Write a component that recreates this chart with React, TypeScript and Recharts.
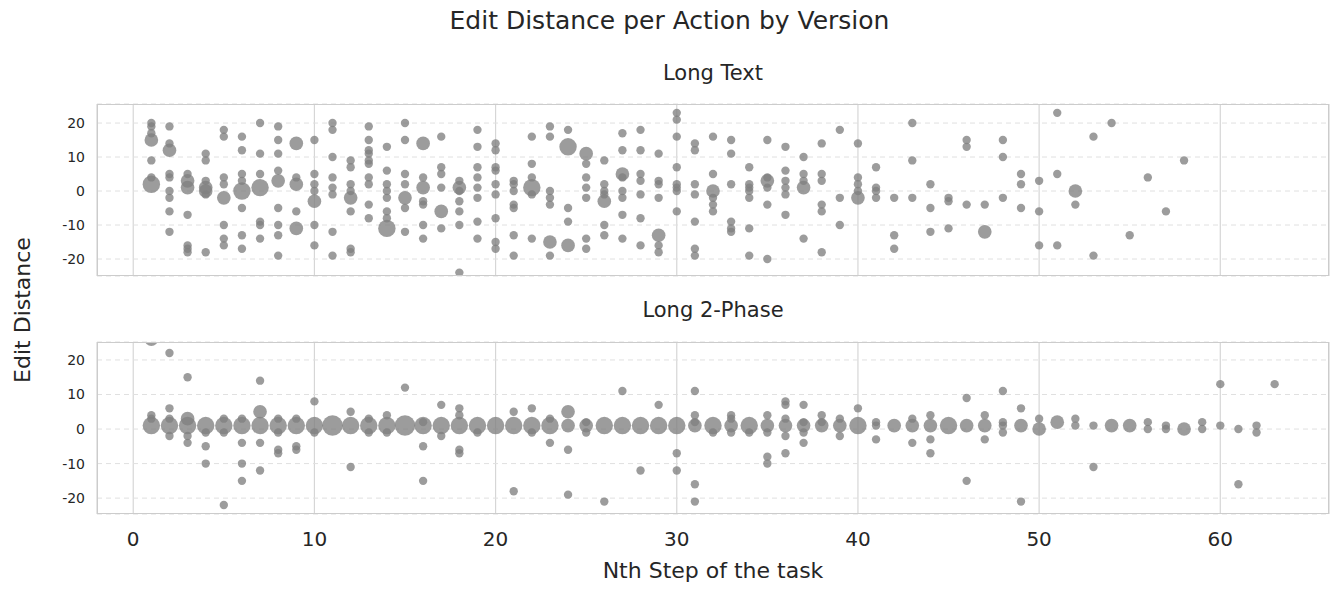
import React from 'react';
import { ScatterChart, Scatter, XAxis, YAxis, ZAxis, CartesianGrid } from 'recharts';

// [step, edit distance, relative count]
const longTextPoints: number[][] = [
  [1,20,1],[1,19,1],[1,17,1],[1,15,2],[1,9,1],[1,4,1],[1,2,3],
  [2,19,1],[2,14,1],[2,12,2],[2,5,1],[2,4,1],[2,0,1],[2,-2,1],[2,-6,1],[2,-12,1],
  [3,5,1],[3,3,2],[3,1,2],[3,-7,1],[3,-16,1],[3,-17,1],[3,-18,1],
  [4,11,1],[4,9,1],[4,3,1],[4,1,2],[4,0,2],[4,-1,1],[4,-18,1],
  [5,18,1],[5,16,1],[5,4,1],[5,2,1],[5,-2,2],[5,-10,1],[5,-14,1],[5,-16,1],
  [6,16,1],[6,12,1],[6,5,1],[6,3,1],[6,0,3],[6,-5,1],[6,-13,1],[6,-17,1],
  [7,20,1],[7,11,1],[7,5,1],[7,1,3],[7,-9,1],[7,-10,1],[7,-14,1],
  [8,19,1],[8,15,1],[8,11,1],[8,6,1],[8,3,2],[8,-5,1],[8,-10,1],[8,-13,1],[8,-19,1],
  [9,14,2],[9,4,1],[9,2,2],[9,-6,1],[9,-11,2],
  [10,15,1],[10,5,1],[10,2,1],[10,0,1],[10,-3,2],[10,-10,1],[10,-16,1],
  [11,20,1],[11,18,1],[11,10,1],[11,4,1],[11,1,1],[11,-1,1],[11,-12,1],[11,-19,1],
  [12,9,1],[12,7,1],[12,2,1],[12,0,1],[12,-2,2],[12,-6,1],[12,-17,1],[12,-18,1],
  [13,19,1],[13,15,1],[13,12,1],[13,11,1],[13,9,1],[13,8,1],[13,4,1],[13,2,1],[13,-4,1],[13,-8,1],
  [14,13,1],[14,6,1],[14,2,1],[14,0,1],[14,-2,1],[14,-6,1],[14,-8,1],[14,-11,3],
  [15,20,1],[15,15,1],[15,5,1],[15,2,1],[15,-2,2],[15,-5,1],[15,-12,1],
  [16,14,2],[16,4,1],[16,1,2],[16,-3,1],[16,-4,1],[16,-10,1],[16,-14,1],
  [17,16,1],[17,7,1],[17,5,1],[17,1,1],[17,-6,2],[17,-11,1],
  [18,3,1],[18,1,2],[18,0,1],[18,-3,1],[18,-6,1],[18,-10,1],[18,-24,1],
  [19,18,1],[19,13,1],[19,7,1],[19,4,1],[19,1,1],[19,-2,1],[19,-9,1],[19,-14,1],
  [20,14,1],[20,12,1],[20,7,1],[20,6,1],[20,2,1],[20,-1,1],[20,-8,1],[20,-15,1],[20,-17,1],
  [21,3,1],[21,2,1],[21,0,1],[21,-4,1],[21,-5,1],[21,-13,1],[21,-19,1],
  [22,16,1],[22,8,1],[22,4,1],[22,1,3],[22,-1,1],[22,-14,1],
  [23,19,1],[23,16,1],[23,0,1],[23,-2,1],[23,-4,1],[23,-15,2],[23,-19,1],
  [24,18,1],[24,13,3],[24,-5,1],[24,-9,1],[24,-16,2],
  [25,11,2],[25,8,1],[25,4,1],[25,1,1],[25,-2,1],[25,-14,1],[25,-17,1],
  [26,9,1],[26,2,1],[26,0,1],[26,-1,1],[26,-3,2],[26,-10,1],[26,-13,1],
  [27,17,1],[27,12,1],[27,5,2],[27,4,1],[27,0,1],[27,-2,1],[27,-7,1],[27,-14,1],
  [28,18,1],[28,12,1],[28,5,1],[28,3,1],[28,-1,1],[28,-8,1],[28,-16,1],
  [29,11,1],[29,3,1],[29,2,1],[29,-2,1],[29,-13,2],[29,-16,1],[29,-18,1],
  [30,23,1],[30,21,1],[30,16,1],[30,7,1],[30,2,1],[30,1,1],[30,0,1],[30,-6,1],
  [31,14,1],[31,12,1],[31,2,1],[31,-1,1],[31,-9,1],[31,-17,1],[31,-19,1],
  [32,16,1],[32,5,1],[32,0,2],[32,-2,1],[32,-4,1],[32,-6,1],
  [33,15,1],[33,11,1],[33,2,1],[33,-9,1],[33,-11,1],[33,-12,1],
  [34,7,1],[34,2,1],[34,1,1],[34,0,1],[34,-2,1],[34,-11,1],[34,-19,1],
  [35,15,1],[35,4,1],[35,3,2],[35,1,1],[35,-4,1],[35,-20,1],
  [36,13,1],[36,6,1],[36,3,1],[36,1,1],[36,-1,1],[36,-7,1],
  [37,10,1],[37,5,1],[37,3,1],[37,1,2],[37,-14,1],
  [38,14,1],[38,5,1],[38,3,1],[38,-4,1],[38,-6,1],[38,-18,1],
  [39,18,1],[39,-2,1],[39,-10,1],
  [40,14,1],[40,4,1],[40,2,1],[40,0,1],[40,-2,2],
  [41,7,1],[41,1,1],[41,0,1],[41,-2,1],
  [42,-2,1],[42,-13,1],[42,-17,1],
  [43,20,1],[43,9,1],[43,-2,1],
  [44,2,1],[44,-5,1],[44,-12,1],
  [45,-2,1],[45,-3,1],[45,-11,1],
  [46,15,1],[46,13,1],[46,-4,1],
  [47,-4,1],[47,-12,2],
  [48,15,1],[48,10,1],[48,-2,1],
  [49,5,1],[49,2,1],[49,-5,1],
  [50,3,1],[50,-6,1],[50,-16,1],
  [51,23,1],[51,5,1],[51,-16,1],
  [52,0,2],[52,-4,1],
  [53,16,1],[53,-19,1],
  [54,20,1],[55,-13,1],[56,4,1],[57,-6,1],[58,9,1],
];

const twoPhasePoints: number[][] = [
  [1,26,2],[1,4,1],[1,3,1],[1,1,3],
  [2,22,1],[2,6,1],[2,3,1],[2,1,3],[2,-2,1],
  [3,15,1],[3,3,2],[3,1,3],[3,-2,1],[3,-4,1],
  [4,1,3],[4,-1,1],[4,-5,1],[4,-10,1],
  [5,3,1],[5,1,3],[5,-1,1],[5,-22,1],
  [6,3,1],[6,1,3],[6,-4,1],[6,-10,1],[6,-15,1],
  [7,14,1],[7,5,2],[7,1,3],[7,-4,1],[7,-12,1],
  [8,3,1],[8,1,3],[8,-1,1],[8,-6,1],[8,-7,1],
  [9,3,1],[9,1,3],[9,-5,1],[9,-6,1],
  [10,8,1],[10,1,3],[10,-1,1],
  [11,1,4],
  [12,5,1],[12,1,3],[12,-11,1],
  [13,3,1],[13,1,3],[13,-1,1],
  [14,4,1],[14,1,3],[14,-1,1],
  [15,12,1],[15,1,4],
  [16,2,1],[16,1,3],[16,-5,1],[16,-15,1],
  [17,7,1],[17,1,3],[17,-2,1],
  [18,6,1],[18,4,1],[18,1,3],[18,-6,1],[18,-7,1],
  [19,1,3],[19,-1,1],
  [20,1,3],
  [21,5,1],[21,1,3],[21,-18,1],
  [22,6,1],[22,1,3],[22,-1,1],
  [23,3,1],[23,1,3],[23,-4,1],
  [24,5,2],[24,1,2],[24,-6,1],[24,-19,1],
  [25,2,1],[25,1,2],[25,-1,1],
  [26,1,3],[26,-21,1],
  [27,11,1],[27,1,3],
  [28,1,3],[28,-12,1],
  [29,7,1],[29,1,3],
  [30,1,3],[30,-7,1],[30,-12,1],
  [31,11,1],[31,4,1],[31,2,1],[31,1,2],[31,-16,1],[31,-21,1],
  [32,1,3],[32,-1,1],
  [33,4,1],[33,3,1],[33,1,2],[33,-1,1],
  [34,1,3],[34,-1,1],
  [35,4,1],[35,1,2],[35,-1,1],[35,-8,1],[35,-10,1],
  [36,8,1],[36,7,1],[36,3,1],[36,1,2],[36,-2,1],[36,-7,1],
  [37,7,1],[37,2,1],[37,1,2],[37,-1,1],[37,-4,1],
  [38,4,1],[38,2,1],[38,1,2],
  [39,3,1],[39,1,2],[39,-2,1],
  [40,6,1],[40,1,3],
  [41,2,1],[41,1,1],[41,-3,1],
  [42,1,2],
  [43,3,1],[43,1,2],[43,-4,1],
  [44,4,1],[44,1,2],[44,-3,1],[44,-7,1],
  [45,1,3],
  [46,9,1],[46,1,2],[46,-15,1],
  [47,4,1],[47,1,2],[47,-3,1],
  [48,11,1],[48,2,1],[48,1,1],[48,-1,1],
  [49,6,1],[49,1,2],[49,-21,1],
  [50,3,1],[50,0,2],
  [51,2,2],
  [52,3,1],[52,1,1],
  [53,1,1],[53,-11,1],
  [54,1,2],[55,1,2],
  [56,2,1],[56,0,1],
  [57,1,1],[57,0,1],
  [58,0,2],
  [59,2,1],[59,0,1],
  [60,13,1],[60,1,1],
  [61,0,1],[61,-16,1],
  [62,1,1],[62,-1,1],
  [63,13,1],
];

const xTicks = [0, 10, 20, 30, 40, 50, 60];
const yTicks = [-20, -10, -5, 0, 5, 10, 20];

const toRows = (pts: number[][]) => pts.map(([x, y, z]) => ({ x, y, z }));

const font = 'DejaVu Sans, sans-serif';

const Panel = ({ top, data, domain, showX }: any) => (
  <div style={{ position: 'absolute', left: 0, top }}>
    <ScatterChart width={1339} height={showX ? 232 : 192} margin={{ top: 10, right: 10, bottom: showX ? 0 : 10, left: 37 }}>
      <CartesianGrid horizontal={false} stroke="#d6d6d6" strokeWidth={1.2} />
      <CartesianGrid vertical={false} stroke="#e0e0e0" strokeDasharray="5 4" />
      <XAxis
        type="number"
        dataKey="x"
        domain={[-2, 66]}
        ticks={xTicks}
        allowDataOverflow
        axisLine={false}
        tickLine={false}
        tick={showX ? { fontSize: 20, fill: '#262626', fontFamily: font } : () => <g />}
        height={showX ? 50 : 0}
        tickMargin={12}
      />
      <YAxis
        type="number"
        dataKey="y"
        domain={domain}
        ticks={yTicks}
        allowDataOverflow
        axisLine={false}
        tickLine={false}
        width={60}
        tick={{ fontSize: 14, fill: '#262626', fontFamily: font }}
        tickMargin={6}
      />
      <ZAxis type="number" dataKey="z" domain={[1, 4]} range={[55, 330]} />
      <Scatter data={data} fill="#808080" fillOpacity={0.78} isAnimationActive={false} />
    </ScatterChart>
    <div style={{ position: 'absolute', left: 97, top: 10, width: 1232, height: 172, border: '1.5px solid #cccccc', boxSizing: 'border-box', pointerEvents: 'none' }} />
  </div>
);

export default function App() {
  const txt: React.CSSProperties = { position: 'absolute', fontFamily: font, color: '#262626', whiteSpace: 'nowrap' };
  return (
    <div style={{ position: 'absolute', left: 0, top: 0, width: 1339, height: 596, background: '#fff' }}>
      <div style={{ ...txt, left: 0, width: 1339, textAlign: 'center', top: 6, fontSize: 25 }}>Edit Distance per Action by Version</div>
      <div style={{ ...txt, left: 97, width: 1232, textAlign: 'center', top: 61, fontSize: 21 }}>Long Text</div>
      <div style={{ ...txt, left: 97, width: 1232, textAlign: 'center', top: 298, fontSize: 21 }}>Long 2-Phase</div>
      <Panel top={94} data={toRows(longTextPoints)} domain={[-25, 25.6]} showX={false} />
      <Panel top={332} data={toRows(twoPhasePoints)} domain={[-24.6, 25.2]} showX />
      <div style={{ ...txt, left: 97, width: 1232, textAlign: 'center', top: 558, fontSize: 22 }}>Nth Step of the task</div>
      <div style={{ ...txt, left: 22, top: 310, fontSize: 22, transform: 'translate(-50%, -50%) rotate(-90deg)' }}>Edit Distance</div>
    </div>
  );
}
